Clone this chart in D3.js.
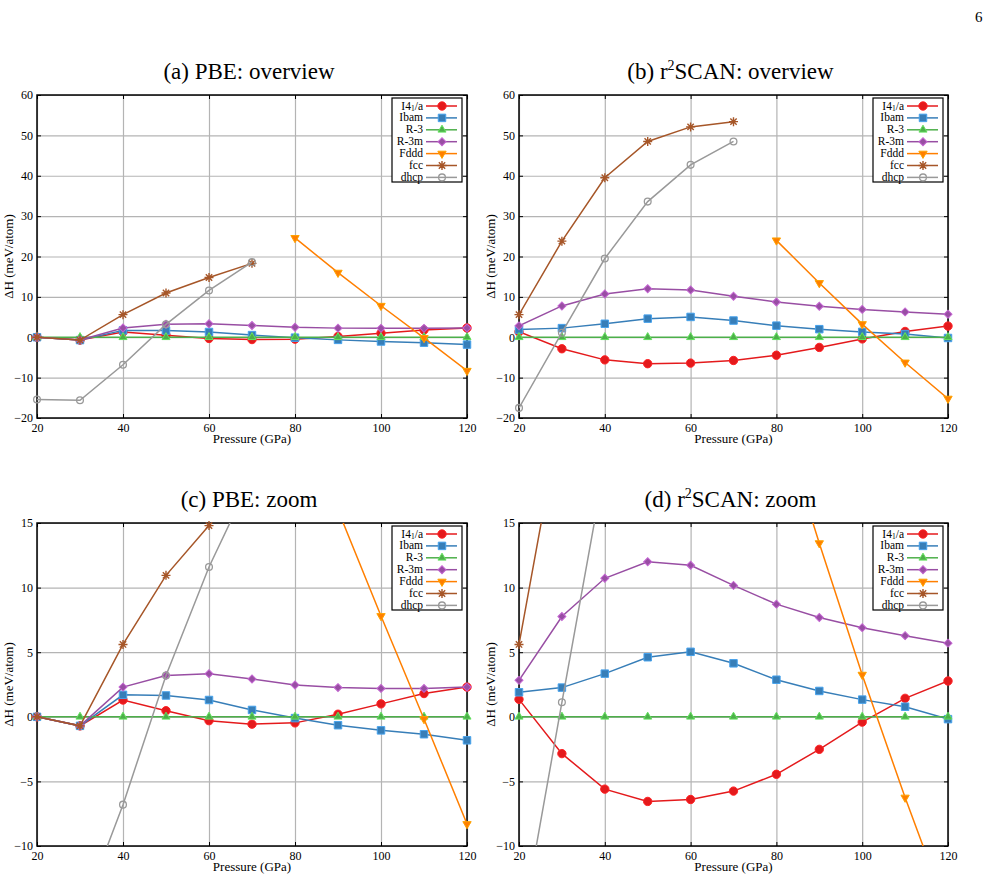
<!DOCTYPE html>
<html>
<head>
<meta charset="utf-8">
<script src="https://cdn.jsdelivr.net/npm/d3@7"></script>
<style>
body { margin: 0; background: #fff; }
svg { display: block; }
text { font-family: "Liberation Serif", "DejaVu Serif", serif; }
</style>
</head>
<body>
<svg id="chart" width="999" height="882" font-family="Liberation Serif, serif"></svg>
<script>
// pressures (GPa)
const pressures = [20, 30, 40, 50, 60, 70, 80, 90, 100, 110, 120];

// PBE enthalpy differences (meV/atom)
const pbeI41a = [0, -0.7, 1.3, 0.47, -0.3, -0.57, -0.47, 0.2, 1.0, 1.8, 2.3];
const pbeIbam = [0, -0.7, 1.7, 1.65, 1.3, 0.53, -0.1, -0.65, -1.05, -1.35, -1.82];
const pbeR3 = [0, 0, 0, 0, 0, 0, 0, 0, 0, 0, 0];
const pbeR3m = [0, -0.7, 2.3, 3.2, 3.34, 2.93, 2.46, 2.26, 2.2, 2.2, 2.3];
const pbeFddd = [null, null, null, null, null, null, 24.6, 16.0, 7.8, -0.17, -8.3];
const pbeFcc = [0, -0.7, 5.6, 10.95, 14.8, 18.3, null, null, null, null, null];
const pbeDhcp = [-15.4, -15.6, -6.8, 3.2, 11.6, 18.6, null, null, null, null, null];

// r2SCAN enthalpy differences (meV/atom)
const scanI41a = [1.35, -2.85, -5.6, -6.55, -6.4, -5.75, -4.45, -2.52, -0.41, 1.43, 2.77];
const scanIbam = [1.9, 2.26, 3.34, 4.61, 5.03, 4.14, 2.87, 2.0, 1.33, 0.78, -0.18];
const scanR3 = [0, 0, 0, 0, 0, 0, 0, 0, 0, 0, 0];
const scanR3m = [2.82, 7.76, 10.72, 12.0, 11.73, 10.17, 8.72, 7.68, 6.9, 6.28, 5.7];
const scanFddd = [null, null, null, null, null, null, 24.0, 13.44, 3.26, -6.25, -15.2];
const scanFcc = [5.6, 23.8, 39.5, 48.5, 52.1, 53.4, null, null, null, null, null];
const scanDhcp = [-17.5, 1.12, 19.5, 33.6, 42.7, 48.5, null, null, null, null, null];

const seriesNames = ["I41/a", "Ibam", "R-3", "R-3m", "Fddd", "fcc", "dhcp"];
const seriesColors = ["#e41a1c", "#377eb8", "#4daf4a", "#984ea3", "#ff7f00", "#a65628", "#999999"];
const seriesShapes = ["circle", "square", "triangle", "diamond", "triangleDown", "star", "openCircle"];

const xTicks = [20, 40, 60, 80, 100, 120];
const overviewTicks = [-20, -10, 0, 10, 20, 30, 40, 50, 60];
const zoomTicks = [-10, -5, 0, 5, 10, 15];

const pbeSeries = [pbeI41a, pbeIbam, pbeR3, pbeR3m, pbeFddd, pbeFcc, pbeDhcp];
const scanSeries = [scanI41a, scanIbam, scanR3, scanR3m, scanFddd, scanFcc, scanDhcp];

const svg = d3.select("#chart");
const defs = svg.append("defs");

svg.append("text")
	.attr("x", 975).attr("y", 22)
	.attr("font-size", 15)
	.text("6");

function markerPath(shape) {
	if (shape === "circle") return d3.symbol(d3.symbolCircle, 55)();
	if (shape === "square") return d3.symbol(d3.symbolSquare, 56)();
	if (shape === "triangle") return d3.symbol(d3.symbolTriangle, 28)();
	if (shape === "triangleDown") return d3.symbol(d3.symbolTriangle, 30)();
	if (shape === "diamond") return d3.symbol(d3.symbolSquare, 32)();
	if (shape === "openCircle") return d3.symbol(d3.symbolCircle, 36)();
	// star: plus + cross
	const r = 4.5, s = r * Math.SQRT1_2;
	return `M${-r},0L${r},0M0,${-r}L0,${r}M${-s},${-s}L${s},${s}M${-s},${s}L${s},${-s}`;
}

function drawMarker(sel, shape, color) {
	const p = sel.append("path").attr("d", markerPath(shape));
	if (shape === "star") {
		p.attr("fill", "none").attr("stroke", color).attr("stroke-width", 1.4);
	} else if (shape === "openCircle") {
		p.attr("fill", "none").attr("stroke", color).attr("stroke-width", 1.3);
	} else {
		p.attr("fill", color)
			.attr("stroke", d3.color(color).brighter(0.7))
			.attr("stroke-width", 1);
	}
	if (shape === "diamond") p.attr("transform", "rotate(45)");
	if (shape === "triangleDown") p.attr("transform", "rotate(180)");
	return p;
}

function drawPanel(cfg) {
	const x = d3.scaleLinear().domain([20, 120]).range([cfg.left, cfg.left + cfg.width]);
	const y = d3.scaleLinear().domain(cfg.yDomain).range([cfg.top + cfg.height, cfg.top]);
	const g = svg.append("g");

	defs.append("clipPath").attr("id", "clip-" + cfg.id)
		.append("rect")
		.attr("x", cfg.left).attr("y", cfg.top)
		.attr("width", cfg.width).attr("height", cfg.height);

	// Title
	const title = g.append("text")
		.attr("x", cfg.left + cfg.width / 2 - 3)
		.attr("y", cfg.top - 16)
		.attr("text-anchor", "middle")
		.attr("font-size", 23);
	title.append("tspan").text(cfg.titleA);
	if (cfg.sup) {
		title.append("tspan").attr("dy", -9).attr("font-size", 14).text("2");
		title.append("tspan").attr("dy", 9).text(cfg.titleB);
	}

	// Grid lines
	g.append("g")
		.attr("transform", `translate(0,${cfg.top + cfg.height})`)
		.call(d3.axisBottom(x).tickValues(xTicks).tickSize(-cfg.height).tickFormat(""))
		.call(a => a.select(".domain").remove())
		.selectAll("line").attr("stroke", "#b4b4b4").attr("stroke-width", 1.2);
	g.append("g")
		.attr("transform", `translate(${cfg.left},0)`)
		.call(d3.axisLeft(y).tickValues(cfg.yTicks).tickSize(-cfg.width).tickFormat(""))
		.call(a => a.select(".domain").remove())
		.selectAll("line").attr("stroke", "#b4b4b4").attr("stroke-width", 1.2);

	// Inward ticks on all four sides
	const tickAxes = [
		[d3.axisBottom(x).tickValues(xTicks), `translate(0,${cfg.top + cfg.height})`],
		[d3.axisTop(x).tickValues(xTicks), `translate(0,${cfg.top})`],
		[d3.axisLeft(y).tickValues(cfg.yTicks), `translate(${cfg.left},0)`],
		[d3.axisRight(y).tickValues(cfg.yTicks), `translate(${cfg.left + cfg.width},0)`]
	];
	tickAxes.forEach(([ax, tr]) => {
		g.append("g").attr("transform", tr)
			.call(ax.tickSize(-4).tickFormat(""))
			.call(a => a.select(".domain").remove())
			.selectAll("line").attr("stroke", "#000").attr("stroke-width", 1);
	});

	// Tick labels
	g.append("g")
		.attr("transform", `translate(0,${cfg.top + cfg.height})`)
		.call(d3.axisBottom(x).tickValues(xTicks).tickSize(0).tickPadding(5))
		.call(a => a.select(".domain").remove())
		.attr("font-family", "Liberation Serif, serif").attr("font-size", 12)
		.selectAll("text").attr("fill", "#000");
	g.append("g")
		.attr("transform", `translate(${cfg.left},0)`)
		.call(d3.axisLeft(y).tickValues(cfg.yTicks).tickSize(0).tickPadding(4))
		.call(a => a.select(".domain").remove())
		.attr("font-family", "Liberation Serif, serif").attr("font-size", 12)
		.selectAll("text").attr("fill", "#000");

	// Frame
	g.append("rect")
		.attr("x", cfg.left).attr("y", cfg.top)
		.attr("width", cfg.width).attr("height", cfg.height)
		.attr("fill", "none").attr("stroke", "#000").attr("stroke-width", 1.5);

	// Axis labels
	g.append("text")
		.attr("transform", `translate(${cfg.left - 24},${cfg.top + cfg.height / 2}) rotate(-90)`)
		.attr("text-anchor", "middle")
		.attr("font-size", 13)
		.text("ΔH (meV/atom)");
	g.append("text")
		.attr("x", cfg.left + cfg.width / 2)
		.attr("y", cfg.top + cfg.height + 25)
		.attr("text-anchor", "middle")
		.attr("font-size", 13)
		.text("Pressure (GPa)");

	// Data
	const [ymin, ymax] = cfg.yDomain;
	cfg.series.forEach((vals, i) => {
		const pts = pressures.map((p, j) => ({ p, v: vals[j] })).filter(d => d.v !== null);
		const line = d3.line().x(d => x(d.p)).y(d => y(d.v));
		g.append("path")
			.attr("d", line(pts))
			.attr("clip-path", `url(#clip-${cfg.id})`)
			.attr("fill", "none")
			.attr("stroke", seriesColors[i])
			.attr("stroke-width", 1.5);
		pts.filter(d => d.v >= ymin && d.v <= ymax).forEach(d => {
			const m = g.append("g").attr("transform", `translate(${x(d.p)},${y(d.v)})`);
			drawMarker(m, seriesShapes[i], seriesColors[i]);
		});
	});

	// Legend
	const right = cfg.left + cfg.width;
	const lg = g.append("g");
	lg.append("rect")
		.attr("x", right - 75).attr("y", cfg.top + 3)
		.attr("width", 70).attr("height", 84)
		.attr("fill", "#fff").attr("stroke", "#000").attr("stroke-width", 1.2);
	seriesNames.forEach((name, i) => {
		const yy = cfg.top + 11 + i * 11.9;
		const t = lg.append("text")
			.attr("x", right - 44).attr("y", yy + 3.5)
			.attr("text-anchor", "end")
			.attr("font-size", 11.5);
		if (name === "I41/a") {
			t.append("tspan").text("I4");
			t.append("tspan").attr("dy", 1.5).attr("font-size", 7.5).text("1");
			t.append("tspan").attr("dy", -1.5).text("/a");
		} else {
			t.text(name);
		}
		lg.append("line")
			.attr("x1", right - 41).attr("x2", right - 10)
			.attr("y1", yy).attr("y2", yy)
			.attr("stroke", seriesColors[i]).attr("stroke-width", 1.5);
		const m = lg.append("g").attr("transform", `translate(${right - 25},${yy})`);
		drawMarker(m, seriesShapes[i], seriesColors[i]);
	});
}

drawPanel({ id: "a", left: 37, top: 95, width: 430, height: 323, yDomain: [-20, 60], yTicks: overviewTicks,
	titleA: "(a) PBE: overview", series: pbeSeries });
drawPanel({ id: "b", left: 519, top: 95, width: 429, height: 323, yDomain: [-20, 60], yTicks: overviewTicks,
	titleA: "(b) r", sup: true, titleB: "SCAN: overview", series: scanSeries });
drawPanel({ id: "c", left: 37, top: 523, width: 430, height: 323, yDomain: [-10, 15], yTicks: zoomTicks,
	titleA: "(c) PBE: zoom", series: pbeSeries });
drawPanel({ id: "d", left: 519, top: 523, width: 429, height: 323, yDomain: [-10, 15], yTicks: zoomTicks,
	titleA: "(d) r", sup: true, titleB: "SCAN: zoom", series: scanSeries });
</script>
</body>
</html>
